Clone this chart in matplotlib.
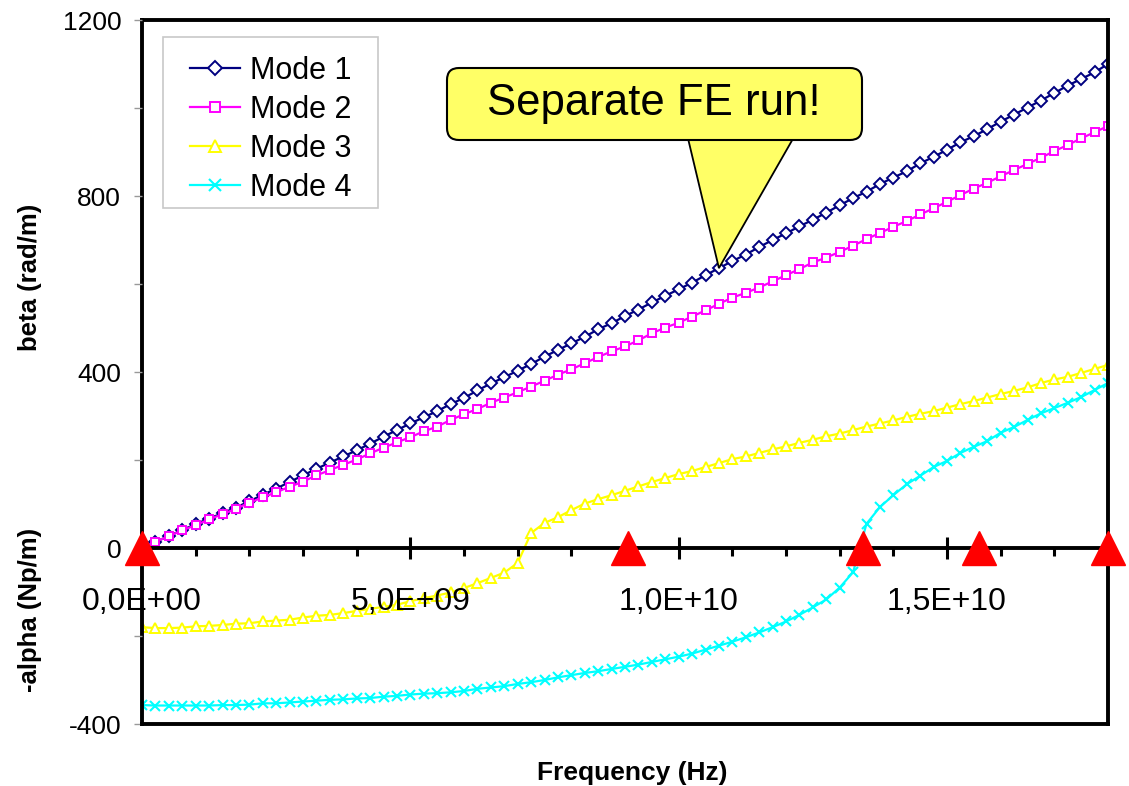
import numpy as np
import matplotlib
matplotlib.use('Agg')
import matplotlib.pyplot as plt
from matplotlib.ticker import MultipleLocator, FuncFormatter
from matplotlib.patches import FancyBboxPatch, Polygon, Rectangle
from matplotlib.transforms import IdentityTransform

plt.rcParams['font.family'] = ['Liberation Sans', 'DejaVu Sans']
plt.rcParams['axes.unicode_minus'] = False

# frequency grid, 0.25 GHz steps from 0 to 18 GHz
freq = np.arange(0, 18.25, 0.25) * 1e9

mode1 = [0, 14, 27, 41, 54, 67, 79, 92, 106, 121, 135,
         150, 165, 180, 194, 208, 222, 237, 253, 268, 283,
         297, 311, 327, 341, 358, 374, 388, 403, 418, 435,
         450, 465, 480, 497, 511, 527, 542, 558, 573, 588,
         603, 620, 636, 652, 667, 684, 700, 715, 731, 746,
         762, 779, 795, 810, 827, 842, 856, 874, 889, 905,
         922, 936, 952, 969, 985, 1001, 1017, 1034, 1051, 1066, 1081, 1100]
mode2 = [0, 14, 27, 40, 52, 65, 77, 89, 103, 115, 127,
         139, 151, 165, 177, 189, 201, 215, 228, 240, 252,
         265, 276, 291, 304, 316, 330, 342, 354, 367, 380,
         394, 406, 420, 434, 447, 458, 472, 488, 501, 512,
         526, 540, 555, 569, 580, 592, 606, 620, 634, 649,
         660, 673, 687, 702, 716, 730, 743, 758, 772, 787,
         802, 817, 830, 845, 859, 873, 887, 902, 916, 931, 945, 959]
mode3 = [-180, -182, -182, -181, -178, -177, -175, -172, -171, -167, -165,
         -163, -158, -154, -152, -148, -143, -138, -134, -129, -121,
         -114, -108, -101, -91, -80, -68, -56, -34,
         34, 57, 70, 86, 101, 111, 120, 130, 140, 150, 159, 168, 175, 184, 193,
         202, 208, 216, 224, 231, 239, 246, 254, 260, 268,
         276, 283, 290, 298, 305, 311, 319, 327, 334, 342,
         350, 357, 365, 375, 383, 389, 398, 407, 416]
mode4 = [-357, -358, -358, -358, -358, -358, -357, -357, -356, -353, -353,
         -351, -349, -347, -345, -344, -342, -341, -338, -336, -333,
         -331, -330, -328, -325, -320, -317, -314, -309, -305, -300,
         -294, -289, -284, -280, -275, -270, -265, -259, -253, -247,
         -240, -231, -222, -213, -203, -192, -180, -167, -152, -135,
         -117, -90, -55,
         55, 93, 120, 145, 164, 184, 198, 216, 230, 243,
         262, 275, 291, 306, 318, 330, 343, 359, 375]

# red triangles on the zero line
fe_freq = [0, 9.05e9, 13.43e9, 15.6e9, 18e9]
fe_val = [0, 0, 0, 0, 0]

callout_text = 'Separate FE run!'
callout_point = (10.75e9, 636)

H = 786
fig = plt.figure(figsize=(11.29, 7.86), dpi=100)
ax = fig.add_axes([142 / 1129, 62 / 786, 966 / 1129, 704 / 786])

ax.plot(freq, mode1, color='#000080', lw=1.6, marker='D', ms=6, mfc='white', mec='#000080', mew=1.4, label='Mode 1')
ax.plot(freq, mode2, color='#FF00FF', lw=1.6, marker='s', ms=6, mfc='white', mec='#FF00FF', mew=1.4, label='Mode 2')
ax.plot(freq, mode3, color='#FFFF00', lw=1.6, marker='^', ms=7, mfc='white', mec='#FFFF00', mew=1.4, label='Mode 3')
ax.plot(freq, mode4, color='#00FFFF', lw=1.6, marker='x', ms=7, mec='#00FFFF', mew=1.5, label='Mode 4')

ax.plot(fe_freq, fe_val, ls='none', marker='^', ms=25, color='red', clip_on=False, zorder=6)

ax.set_xlim(0, 18e9)
ax.set_ylim(-400, 1200)

# frame and zero axis line
for s in ['top', 'left', 'right', 'bottom']:
    ax.spines[s].set_linewidth(2.8)
ax.spines['bottom'].set_position(('data', 0))
ax.plot([0, 1], [0, 0], transform=ax.transAxes, color='black', lw=2.8, clip_on=False, zorder=3)
ax.set_axisbelow(False)

ax.xaxis.set_major_locator(MultipleLocator(5e9))
ax.xaxis.set_minor_locator(MultipleLocator(1e9))
ax.xaxis.set_major_formatter(FuncFormatter(lambda v, p: ('%.1E' % v).replace('.', ',')))
ax.tick_params(axis='x', which='major', direction='inout', length=16, width=2.2, pad=20, labelsize=23)
ax.tick_params(axis='x', which='minor', direction='out', length=6, width=2.2)

ax.yaxis.set_major_locator(MultipleLocator(400))
ax.yaxis.set_minor_locator(MultipleLocator(200))
ax.tick_params(axis='y', which='both', direction='out', length=6, width=1, color='#999999', pad=9, labelsize=19)

# legend: frame drawn separately so the padding can be wider than tall
frame = Rectangle((163, H - 208), 215, 171, fc='white', ec='#c8c8c8', lw=1.2,
                  transform=IdentityTransform(), clip_on=False, zorder=4.9)
ax.add_patch(frame)
ax.legend(loc='upper left', bbox_to_anchor=((190 - 142) / 966, (724 - 56) / 704), borderaxespad=0,
          fontsize=22, frameon=False, handlelength=1.65, handletextpad=0.3,
          labelspacing=0.29, borderpad=0, markerscale=1.2)

# axis titles
fig.text(30 / 1129, 1 - 277 / 786, 'beta (rad/m)', rotation=90, ha='center', va='center', fontsize=18.5, fontweight='bold')
fig.text(30 / 1129, 1 - 610 / 786, '-alpha (Np/m)', rotation=90, ha='center', va='center', fontsize=18.5, fontweight='bold')
fig.text(632 / 1129, 1 - 773 / 786, 'Frequency (Hz)', ha='center', va='center', fontsize=19, fontweight='bold')

# callout bubble, drawn in pixel coordinates
tip = ax.transData.transform(callout_point)
tail = Polygon([(686, H - 130), tuple(tip), (798, H - 130)], closed=True,
               fc='#FFFF66', ec='black', lw=1.3, transform=IdentityTransform(), zorder=9)
box = FancyBboxPatch((447, H - 140), 415, 72, boxstyle='round,pad=0,rounding_size=12',
                     fc='#FFFF66', ec='black', lw=1.5, transform=IdentityTransform(), zorder=10)
fig.add_artist(tail)
fig.add_artist(box)
fig.text(654 / 1129, 1 - 104 / 786, callout_text, ha='center', va='center', fontsize=31.5, zorder=11)

fig.savefig('out.png', dpi=100, facecolor='white')
